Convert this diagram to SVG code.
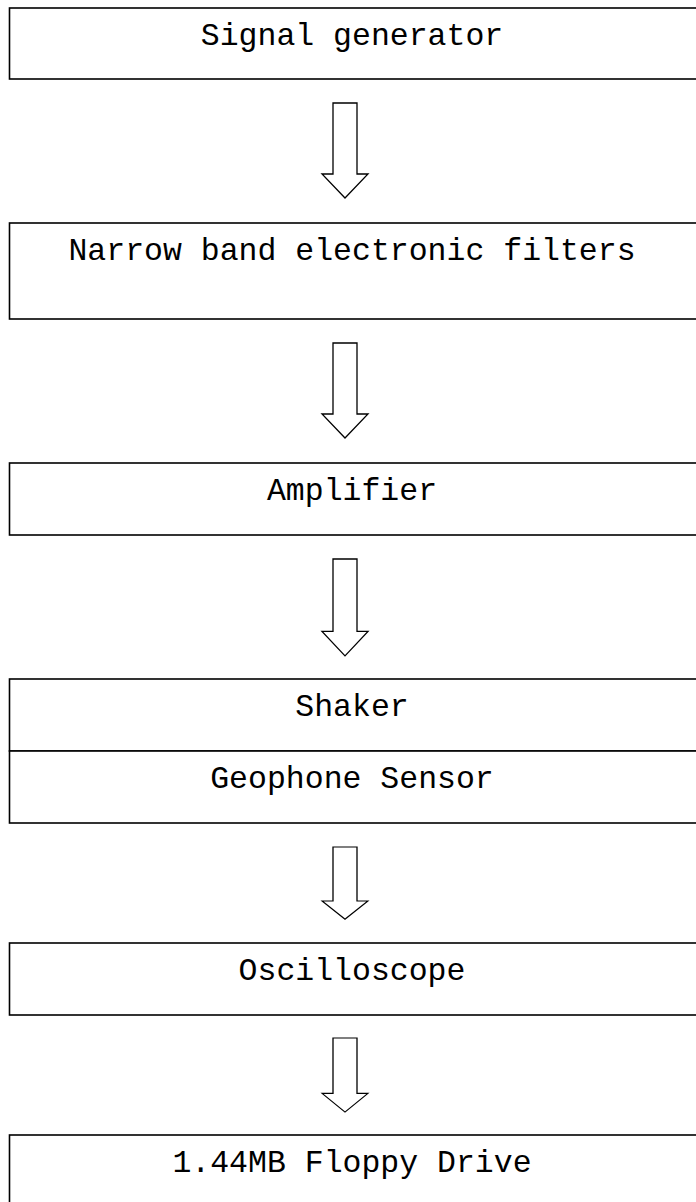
<svg xmlns="http://www.w3.org/2000/svg" width="696" height="1202" viewBox="0 0 696 1202">
<style>
.box{fill:#fff;stroke:#000;stroke-width:1.6}
.arr{fill:#fff;stroke:#000;stroke-width:1.3;stroke-linejoin:miter}
.lbl{font-family:"Liberation Mono","Courier New",monospace;font-size:31.5px;fill:#000;text-anchor:middle}
</style>
<rect width="696" height="1202" fill="#fff"/>
<defs>
<path id="bigArrow" d="M-12,0 H12 V71 H23 L0,95 L-23,71 H-12 Z"/>
</defs>
<g id="connectors">
<use href="#bigArrow" class="arr" transform="translate(345,103)"/>
<use href="#bigArrow" class="arr" transform="translate(345,343)"/>
<use href="#bigArrow" class="arr" transform="translate(345,559) scale(1,1.02)"/>
<use href="#bigArrow" class="arr" transform="translate(345,847) scale(1,0.76)"/>
<use href="#bigArrow" class="arr" transform="translate(345,1038) scale(1,0.78)"/>
</g>
<g id="n1"><rect class="box" x="9.5" y="8" width="700" height="71"/><text class="lbl" x="352" y="45">Signal generator</text></g>
<g id="n2"><rect class="box" x="9.5" y="223" width="700" height="96"/><text class="lbl" x="352" y="260">Narrow band electronic filters</text></g>
<g id="n3"><rect class="box" x="9.5" y="463" width="700" height="72"/><text class="lbl" x="352" y="500">Amplifier</text></g>
<g id="n4"><rect class="box" x="9.5" y="679" width="700" height="72"/><text class="lbl" x="352" y="716">Shaker</text></g>
<g id="n5"><rect class="box" x="9.5" y="751" width="700" height="72"/><text class="lbl" x="352" y="788">Geophone Sensor</text></g>
<g id="n6"><rect class="box" x="9.5" y="943" width="700" height="72"/><text class="lbl" x="352" y="980">Oscilloscope</text></g>
<g id="n7"><rect class="box" x="9.5" y="1135" width="700" height="72"/><text class="lbl" x="352" y="1172">1.44MB Floppy Drive</text></g>
</svg>
